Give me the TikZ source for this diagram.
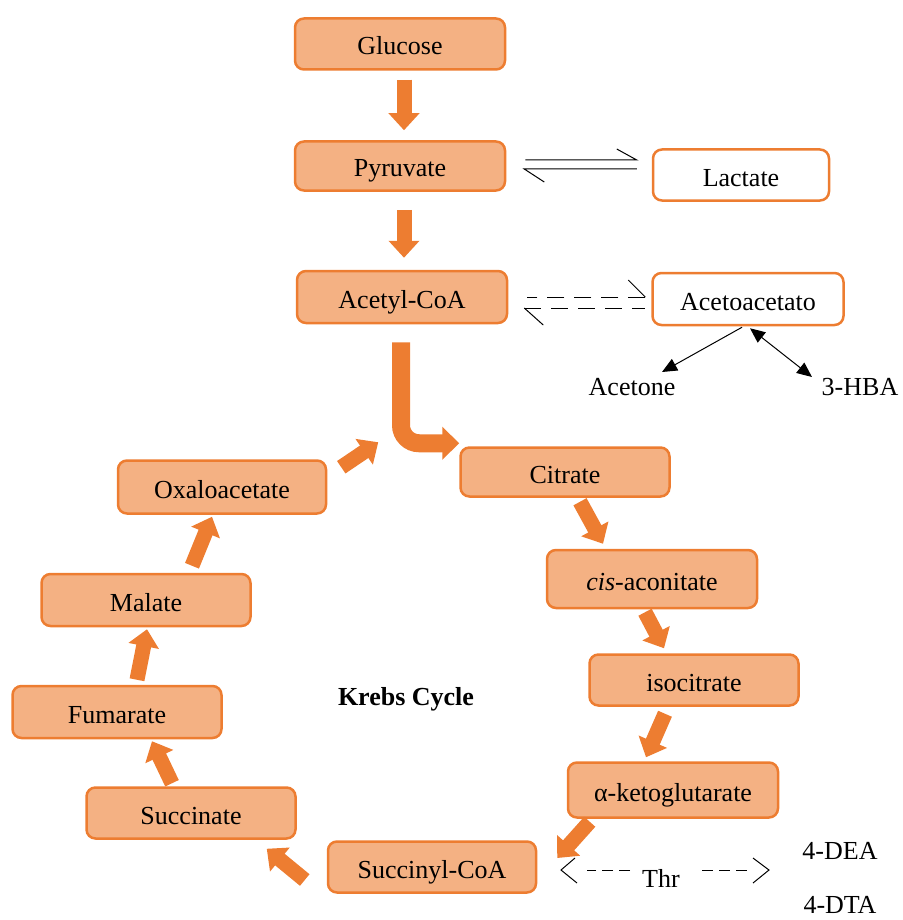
\documentclass[tikz,border=0pt]{standalone}
\usepackage{fontspec}
\setmainfont{Liberation Serif}
\usetikzlibrary{arrows.meta}
\definecolor{boxfill}{HTML}{F4B183}
\definecolor{boxline}{HTML}{ED7D31}
\begin{document}
\begin{tikzpicture}[x=1pt,y=-1pt,
  every node/.style={font=\fontsize{26}{30}\selectfont},
  metab/.style={draw=boxline, fill=boxfill, line width=2.5pt, rounded corners=9pt, inner sep=0pt, text height=22pt, text depth=0pt},
  plainbox/.style={draw=boxline, fill=white, line width=2.5pt, rounded corners=9pt, inner sep=0pt, text height=22pt, text depth=0pt},
  flow/.style={draw=boxline, line width=15pt, -{Triangle[length=17pt,width=30pt]}},
  lbl/.style={inner sep=0pt},
  thinline/.style={line width=1pt, draw=black},
  dashA/.style={thinline, dash pattern=on 17pt off 10pt},
  dashB/.style={thinline, dash pattern=on 11pt off 6pt},
  headtri/.style={thinline, -{Triangle[length=15pt,width=13pt]}},
  headtri2/.style={thinline, {Triangle[length=15pt,width=13pt]}-{Triangle[length=15pt,width=13pt]}}
  ]
\useasboundingbox (0,0) rectangle (902,920);

% metabolite boxes
\node[metab, minimum width=210pt, minimum height=51pt] (glucose) at (400,44) {Glucose};
\node[metab, minimum width=210pt, minimum height=49pt] (pyruvate) at (400,166) {Pyruvate};
\node[metab, minimum width=210pt, minimum height=52pt] (acetyl) at (402,297) {Acetyl-CoA};
\node[plainbox, minimum width=176pt, minimum height=51pt] (lactate) at (741,175) {Lactate};
\node[plainbox, minimum width=191pt, minimum height=52pt] (acetoacetato) at (748,299) {Acetoacetato};
\node[metab, minimum width=209pt, minimum height=49pt] (citrate) at (565,472) {Citrate};
\node[metab, minimum width=210pt, minimum height=58pt] (cis) at (652,579) {\textit{cis}-aconitate};
\node[metab, minimum width=209pt, minimum height=51pt] (iso) at (694,680) {isocitrate};
\node[metab, minimum width=210pt, minimum height=55pt] (akg) at (673,790) {α-ketoglutarate};
\node[metab, minimum width=208pt, minimum height=51pt] (succoa) at (432,867) {Succinyl-CoA};
\node[metab, minimum width=209pt, minimum height=51pt] (succinate) at (191,813) {Succinate};
\node[metab, minimum width=209pt, minimum height=52pt] (fumarate) at (117,712) {Fumarate};
\node[metab, minimum width=209pt, minimum height=52pt] (malate) at (146,600) {Malate};
\node[metab, minimum width=208pt, minimum height=53pt] (oxalo) at (222,487) {Oxaloacetate};

% plain labels
\node[lbl] (krebs) at (406,699) {\bfseries Krebs Cycle};
\node[lbl] (acetone) at (632,387) {Acetone};
\node[lbl] (hba) at (860,387) {3-HBA};
\node[lbl] (thr) at (661,878) {Thr};
\node[lbl] (dea) at (840,851) {4-DEA};
\node[lbl] (dta) at (840,905) {4-DTA};
\coordinate (thrL) at (561,870);
\coordinate (thrR) at (769,870);

% thick orange arrows
\draw[flow] ([shift={(4,9)}]glucose.south) -- ([shift={(4,-10)}]pyruvate.north);
\draw[flow] ([shift={(4,18)}]pyruvate.south) -- ([shift={(2,-12)}]acetyl.north);
\draw[flow, line width=18pt, rounded corners=18pt, -{Triangle[length=17pt,width=32pt]}]
  ([shift={(-1,18)}]acetyl.south) |- ([shift={(0,-3)}]citrate.north west);
\draw[flow] ([shift={(14,8)}]oxalo.north east) -- ([shift={(51,-17)}]oxalo.north east);
\draw[flow] ([shift={(15,4)}]citrate.south) -- ([shift={(-49,-5)}]cis.north);
\draw[flow] ([shift={(-7,3)}]cis.south) -- ([shift={(-30,-5)}]iso.north);
\draw[flow] ([shift={(-29,7)}]iso.south) -- ([shift={(-27,-4)}]akg.north);
\draw[flow] ([shift={(23,3)}]akg.south west) -- ([shift={(20,-9)}]succoa.east);
\draw[flow] ([shift={(-22,13)}]succoa.west) -- ([shift={(-30,9)}]succinate.south east);
\draw[flow] ([shift={(-19,-3)}]succinate.north) -- ([shift={(35,2)}]fumarate.south);
\draw[flow] ([shift={(20,-5)}]fumarate.north) -- ([shift={(1,2)}]malate.south);
\draw[flow] ([shift={(46,-7)}]malate.north) -- ([shift={(-10,2)}]oxalo.south);

% pyruvate <-> lactate (harpoons)
\draw[thinline] ([shift={(19,-6)}]pyruvate.east) -- ([shift={(-15,-15)}]lactate.west) -- ++(-20,-11);
\draw[thinline] ([shift={(-15,-6)}]lactate.west) -- ([shift={(18,3)}]pyruvate.east) -- ++(20,13);

% acetyl-CoA <-> acetoacetato (dashed harpoons)
\draw[dashA] ([shift={(-6,-2)}]acetoacetato.west) -- ([shift={(19,0)}]acetyl.east);
\draw[thinline] ([shift={(-6,-2)}]acetoacetato.west) -- ++(-17,-17);
\draw[dashA] ([shift={(16,11)}]acetyl.east) -- ([shift={(-6,9)}]acetoacetato.west);
\draw[thinline] ([shift={(16,11)}]acetyl.east) -- ++(19,17);

% acetoacetato -> acetone, <-> 3-HBA
\draw[headtri] ([shift={(-6,1)}]acetoacetato.south) -- ([shift={(30,-15)}]acetone.center);
\draw[headtri2] ([shift={(2,2)}]acetoacetato.south) -- ([shift={(-48,-10)}]hba.center);

% Thr dashed arrows
\draw[dashB] ([xshift=69pt]thrL) -- ([xshift=26pt]thrL);
\draw[thinline] ([shift={(14,-12)}]thrL) -- (thrL) -- ([shift={(16,13)}]thrL);
\draw[dashB] ([xshift=-67pt]thrR) -- ([xshift=-16pt]thrR);
\draw[thinline] ([shift={(-16,-12)}]thrR) -- (thrR) -- ([shift={(-16,13)}]thrR);
\end{tikzpicture}
\end{document}
